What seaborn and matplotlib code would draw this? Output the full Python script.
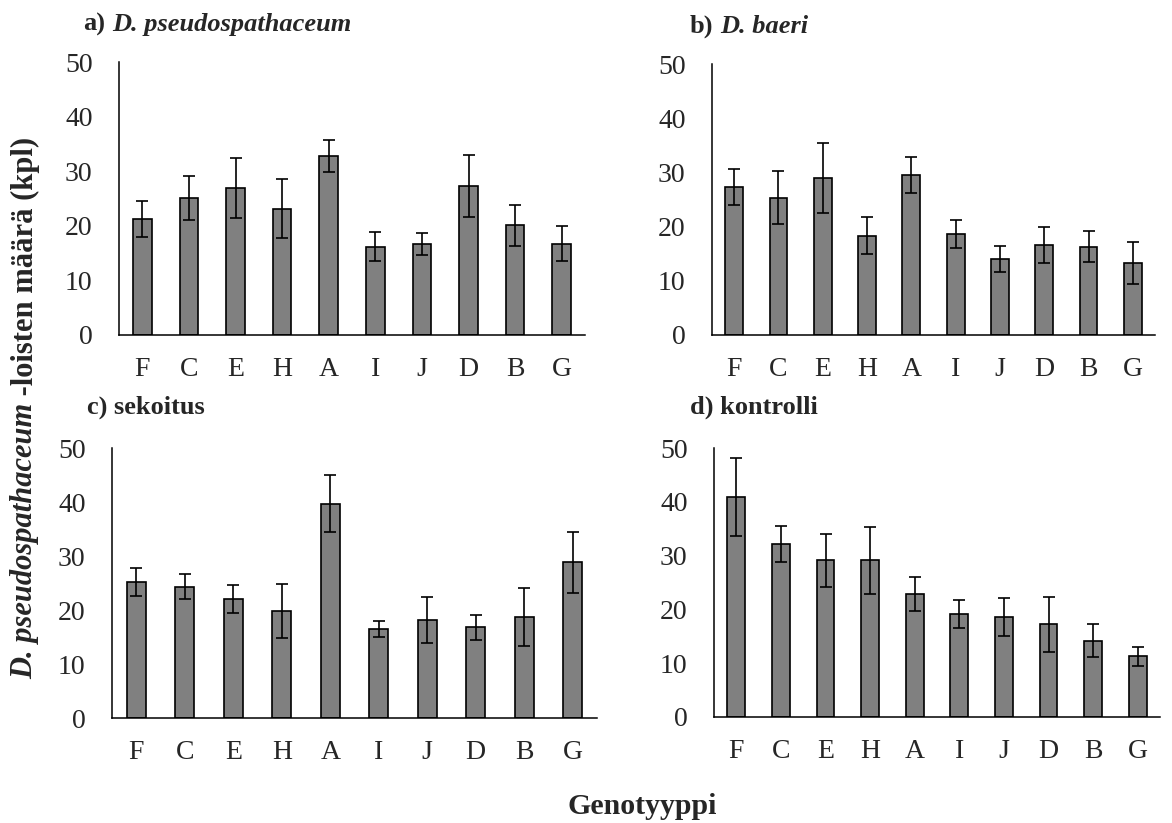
import numpy as np
import pandas as pd
import seaborn as sns
import matplotlib.pyplot as plt

W, H = 1172, 823  # output size in px (dpi 100)

genotypes = ['F', 'C', 'E', 'H', 'A', 'I', 'J', 'D', 'B', 'G']

# mean number of D. pseudospathaceum cysts per genotype, with error bars
pseudo_mean = [21.2, 25.1, 27.0, 23.1, 32.8, 16.2, 16.7, 27.3, 20.1, 16.7]
pseudo_err = [3.3, 4.0, 5.5, 5.4, 3.0, 2.6, 2.0, 5.6, 3.8, 3.2]

baeri_mean = [27.3, 25.3, 29.0, 18.3, 29.5, 18.6, 14.1, 16.6, 16.3, 13.3]
baeri_err = [3.4, 4.9, 6.5, 3.4, 3.3, 2.6, 2.4, 3.4, 2.8, 3.8]

mix_mean = [25.2, 24.3, 22.1, 19.9, 39.7, 16.5, 18.2, 16.8, 18.7, 28.8]
mix_err = [2.6, 2.3, 2.6, 5.0, 5.3, 1.5, 4.3, 2.3, 5.4, 5.7]

ctrl_mean = [40.9, 32.2, 29.1, 29.1, 22.9, 19.2, 18.6, 17.2, 14.2, 11.3]
ctrl_err = [7.2, 3.3, 5.0, 6.3, 3.2, 2.6, 3.5, 5.1, 3.0, 1.8]

y_ticks = [0, 10, 20, 30, 40, 50]

sns.set_style('white')
plt.rcParams['font.family'] = ['Liberation Serif', 'DejaVu Serif']


def px_rect(left, right, top, bottom):
    return [left / W, 1 - bottom / H, (right - left) / W, (bottom - top) / H]


def px(x, y):
    return x / W, 1 - y / H


fig = plt.figure(figsize=(W / 100, H / 100), dpi=100)

panels = [
    # (mean, err, axes rect in px, title head, title italic part, title pos)
    (pseudo_mean, pseudo_err, px_rect(119, 585, 62, 335), 'a)', 'D. pseudospathaceum', (83, 31)),
    (baeri_mean, baeri_err, px_rect(712, 1155, 64, 335), 'b)', 'D. baeri', (690, 33)),
    (mix_mean, mix_err, px_rect(112, 597, 448, 718), 'c) sekoitus', None, (87, 414)),
    (ctrl_mean, ctrl_err, px_rect(714, 1160, 448, 717), 'd) kontrolli', None, (690, 414)),
]

axes = []
for mean, err, rect, head, ital, tpos in panels:
    ax = fig.add_axes(rect)
    df = pd.DataFrame({'genotyyppi': genotypes, 'maara': mean})
    sns.barplot(data=df, x='genotyyppi', y='maara', order=genotypes, color='#808080',
                saturation=1, edgecolor='black', linewidth=1.2, width=0.4,
                errorbar=None, ax=ax)
    ax.errorbar(np.arange(len(genotypes)), mean, yerr=err, fmt='none', ecolor='black',
                elinewidth=1.2, capsize=4, capthick=1.2, zorder=5)

    ax.set_xlim(-0.5, len(genotypes) - 0.5)
    ax.set_ylim(0, 50)
    ax.set_yticks(y_ticks)
    ax.set_yticklabels([str(v) for v in y_ticks])
    # category boundaries get the tick marks, labels sit between them
    ax.set_xticks(np.arange(-0.5, len(genotypes), 1))
    ax.set_xticklabels([])
    ax.set_xticks(np.arange(len(genotypes)), minor=True)
    ax.set_xticklabels(genotypes, minor=True)
    ax.tick_params(axis='x', which='major', direction='out', length=7, width=1, color='black')
    ax.tick_params(axis='x', which='minor', length=0, pad=16, labelsize=20)
    ax.tick_params(axis='y', direction='out', length=6, width=1, color='black', pad=13, labelsize=20)
    ax.set_xlabel('')
    ax.set_ylabel('')
    sns.despine(ax=ax)
    for s in ['left', 'bottom']:
        ax.spines[s].set_color('black')
        ax.spines[s].set_linewidth(1.1)

    t = fig.text(*px(*tpos), head, fontsize=19, fontweight='bold', ha='left', va='baseline')
    if ital:
        ax.annotate(ital, xy=(1, 0), xycoords=t, xytext=(5, 0), textcoords='offset points',
                    fontsize=19, fontweight='bold', style='italic', ha='left', va='bottom',
                    annotation_clip=False)
    axes.append(ax)

# y label: italic species name followed by upright text
t1 = fig.text(*px(25, 679), 'D. pseudospathaceum', rotation=90, fontsize=22,
              fontweight='bold', style='italic', ha='center', va='bottom')
axes[0].annotate(' -loisten määrä (kpl)', xy=(0.5, 1), xycoords=t1, rotation=90, fontsize=22,
                 fontweight='bold', ha='center', va='bottom', annotation_clip=False)

fig.text(*px(642, 806), 'Genotyyppi', fontsize=21.5, fontweight='bold', ha='center', va='center')

fig.savefig('out.png', dpi=100, facecolor='white')
